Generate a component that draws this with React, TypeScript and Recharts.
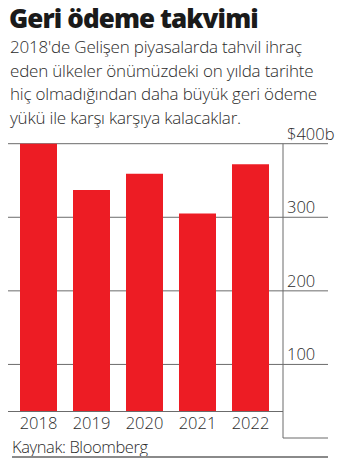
import React from "react";
import {
  BarChart, Bar, XAxis, YAxis, CartesianGrid, ReferenceLine,
} from "recharts";

// Yıllara göre geri ödeme yükü (milyar $)
const years = ["2018", "2019", "2020", "2021", "2022"];
const payments = [400, 337, 359, 305, 372];
const yTicks = [0, 100, 200, 300, 400];
const gridValues = [100, 200, 300, 400];
// barların kesildiği taban değeri
const BASE = 36;

const data = years.map((year, i) => ({ year, value: payments[i] }));

const RED = "#ED1C24";
const LINE = "#6b6b6b";
const TEXT = "#2b2b2b";
const FONT = "'Open Sans', sans-serif";

const W = 350;
const H = 472;

function YTick(props: any) {
  const { x, y, payload } = props;
  if (payload.value === 0) return null;
  const label = payload.value === 400 ? "$400b" : String(payload.value);
  return (
    <text x={x} y={y - 4} textAnchor="start" fontSize={16.5} fontWeight={300}
      fill={TEXT} fontFamily={FONT}>
      {label}
    </text>
  );
}

function XTick(props: any) {
  const { x, y, payload } = props;
  return (
    <text x={x} y={y - 9} textAnchor="middle" fontSize={16.5} fontWeight={300}
      fill={TEXT} fontFamily={FONT}>
      {payload.value}
    </text>
  );
}

export default function App() {
  return (
    <div style={{ position: "absolute", left: 0, top: 0, width: W, height: H, background: "#fff", fontFamily: FONT }}>
      <BarChart
        width={W}
        height={H}
        data={data}
        margin={{ top: 143.7, right: 22, left: 8, bottom: 33 }}
      >
        <CartesianGrid horizontalValues={gridValues} vertical={false} stroke={LINE} strokeWidth={1} />
        <XAxis
          dataKey="year"
          height={1}
          axisLine={false}
          tickLine={false}
          tickSize={0}
          tickMargin={0}
          padding={{ left: 4, right: 6 }}
          tick={XTick}
          interval={0}
        />
        <YAxis
          orientation="right"
          width={45}
          domain={[0, 400]}
          ticks={yTicks}
          tickSize={45}
          tickMargin={-41}
          axisLine={{ stroke: LINE }}
          tickLine={{ stroke: LINE }}
          tick={YTick}
        />
        <ReferenceLine y={BASE} stroke={LINE} strokeWidth={1} />
        <Bar
          dataKey={(d: any) => [BASE, d.value]}
          fill={RED}
          barSize={37}
          isAnimationActive={false}
        />
      </BarChart>

      <div style={{ position: "absolute", left: 9, top: 0, fontSize: 26, fontWeight: 800, color: "#1a1a1a", letterSpacing: -0.9 }}>
        Geri ödeme takvimi
      </div>
      <div style={{ position: "absolute", left: 10, top: 35, width: 340, fontSize: 17, fontWeight: 300, color: TEXT, lineHeight: "23.7px", letterSpacing: -0.2 }}>
        <div>2018'de Gelişen piyasalarda tahvil ihraç</div>
        <div>eden ülkeler önümüzdeki on yılda tarihte</div>
        <div>hiç olmadığından daha büyük geri ödeme</div>
        <div>yükü ile karşı karşıya kalacaklar.</div>
      </div>
      <div style={{ position: "absolute", left: 12, top: 435, fontSize: 16.5, fontWeight: 300, color: TEXT, letterSpacing: -0.4 }}>
        Kaynak: Bloomberg
      </div>
      <div style={{ position: "absolute", left: 12, top: 456, width: 316, height: 1.5, background: "#8a8a8a" }} />
    </div>
  );
}
